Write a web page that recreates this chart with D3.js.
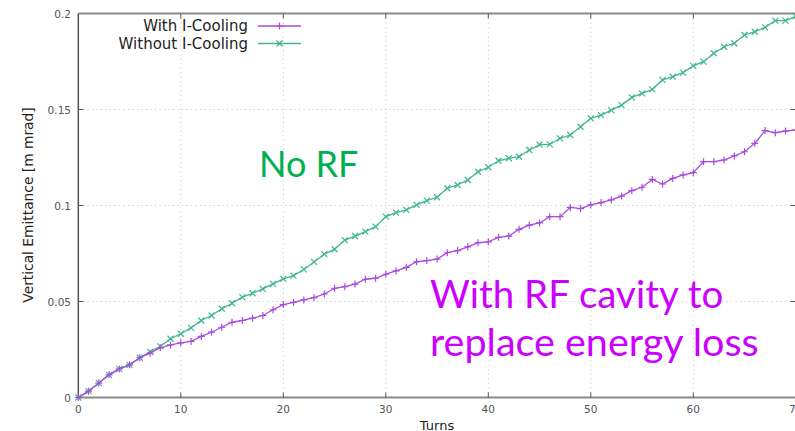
<!DOCTYPE html>
<html>
<head>
<meta charset="utf-8">
<script src="https://cdn.jsdelivr.net/npm/d3@7"></script>
<style>
  body { margin: 0; background: #fff; }
  svg { display: block; }
</style>
</head>
<body>
<svg id="chart" width="795" height="431"></svg>
<script>
// turns 0..70
const turns = d3.range(0, 71);
const withCooling = [
  0, 0.0033, 0.0075, 0.0118, 0.0149, 0.017, 0.0207, 0.0231, 0.0259, 0.0274,
  0.0285, 0.0292, 0.0318, 0.034, 0.0366, 0.0392, 0.0401, 0.0413, 0.0427, 0.0457,
  0.0484, 0.0496, 0.0508, 0.052, 0.0539, 0.0569, 0.0577, 0.0591, 0.0616, 0.0621,
  0.0642, 0.0659, 0.0678, 0.0707, 0.0713, 0.0721, 0.0754, 0.0765, 0.0785, 0.0806,
  0.0811, 0.0834, 0.0841, 0.0876, 0.0898, 0.0909, 0.0942, 0.0942, 0.099, 0.0984,
  0.1003, 0.1015, 0.1029, 0.1049, 0.1077, 0.1095, 0.1136, 0.1112, 0.1141, 0.1159,
  0.1171, 0.1228, 0.1228, 0.1237, 0.1258, 0.128, 0.1324, 0.139, 0.1379, 0.1388,
  0.1393
];
const withoutCooling = [
  0, 0.0033, 0.0075, 0.0118, 0.0149, 0.017, 0.0207, 0.0238, 0.0266, 0.0306,
  0.0332, 0.0363, 0.0401, 0.0427, 0.0462, 0.0491, 0.0523, 0.0543, 0.0566, 0.0592,
  0.0618, 0.0635, 0.0667, 0.0706, 0.0747, 0.0772, 0.082, 0.0841, 0.0864, 0.089,
  0.0942, 0.0963, 0.0977, 0.1003, 0.1025, 0.1043, 0.109, 0.1107, 0.1133, 0.1176,
  0.1199, 0.1233, 0.1246, 0.1254, 0.1289, 0.1317, 0.1318, 0.135, 0.1367, 0.141,
  0.1454, 0.1471, 0.1497, 0.1523, 0.1563, 0.1584, 0.1605, 0.1654, 0.1671, 0.1692,
  0.1727, 0.1749, 0.1793, 0.1827, 0.1845, 0.1888, 0.1905, 0.1928, 0.1963, 0.1963,
  0.1985
];
const xTicks = [0, 10, 20, 30, 40, 50, 60, 70];
const yTicks = [0, 0.05, 0.1, 0.15, 0.2];
const yTickLabels = ["0", "0.05", "0.1", "0.15", "0.2"];
const seriesNames = ["With I-Cooling", "Without I-Cooling"];

const svg = d3.select("#chart");
const x = d3.scaleLinear().domain([0, 70]).range([78.3, 795.8]);
const y = d3.scaleLinear().domain([0, 0.2]).range([397.5, 13.5]);

const purple = "#a64ddc";
const green = "#3fb68f";

// grid
const grid = svg.append("g");
grid.selectAll("line.gx").data(xTicks.slice(1)).enter().append("line")
  .attr("x1", d => x(d)).attr("x2", d => x(d))
  .attr("y1", y(0)).attr("y2", y(0.2))
  .attr("stroke", "#d4d4d4").attr("stroke-dasharray", "1.5,3");
grid.selectAll("line.gy").data(yTicks.slice(1, -1)).enter().append("line")
  .attr("x1", x(0)).attr("x2", x(70))
  .attr("y1", d => y(d)).attr("y2", d => y(d))
  .attr("stroke", "#d4d4d4").attr("stroke-dasharray", "1.5,3");

// borders
svg.append("line").attr("x1", x(0)).attr("x2", 795).attr("y1", y(0.2)).attr("y2", y(0.2))
  .attr("stroke", "#8a8a8a").attr("stroke-width", 2);
svg.append("line").attr("x1", x(0) - 1).attr("x2", 795).attr("y1", y(0)).attr("y2", y(0))
  .attr("stroke", "#8a8a8a").attr("stroke-width", 2);
svg.append("line").attr("x1", x(0)).attr("x2", x(0)).attr("y1", y(0.2)).attr("y2", y(0))
  .attr("stroke", "#555").attr("stroke-width", 1.5);

// tick marks (gnuplot style, inward and mirrored)
const ticks = svg.append("g").attr("stroke", "#555").attr("stroke-width", 1);
xTicks.slice(1).forEach(t => {
  ticks.append("line").attr("x1", x(t)).attr("x2", x(t)).attr("y1", y(0)).attr("y2", y(0) - 5);
  ticks.append("line").attr("x1", x(t)).attr("x2", x(t)).attr("y1", y(0.2)).attr("y2", y(0.2) + 5);
});
yTicks.slice(1, -1).forEach(t => {
  ticks.append("line").attr("x1", x(0)).attr("x2", x(0) + 5).attr("y1", y(t)).attr("y2", y(t));
  ticks.append("line").attr("x1", x(70)).attr("x2", x(70) - 5).attr("y1", y(t)).attr("y2", y(t));
});

// tick labels
svg.append("g").selectAll("text").data(xTicks).enter().append("text")
  .attr("x", d => x(d)).attr("y", 413)
  .attr("text-anchor", "middle")
  .style("font", "10.5px 'DejaVu Sans'").style("fill", "#555")
  .text(d => d);
svg.append("g").selectAll("text").data(yTicks).enter().append("text")
  .attr("x", 71).attr("y", d => y(d) + 4)
  .attr("text-anchor", "end")
  .style("font", "10.5px 'DejaVu Sans'").style("fill", "#555")
  .text((d, i) => yTickLabels[i]);

// axis titles
svg.append("text").attr("x", 437).attr("y", 429.5)
  .attr("text-anchor", "middle")
  .style("font", "13px 'DejaVu Sans'").style("fill", "#222")
  .text("Turns");
svg.append("text")
  .attr("transform", "translate(33,205) rotate(-90)")
  .attr("text-anchor", "middle")
  .style("font", "13.8px 'DejaVu Sans'").style("fill", "#222")
  .text("Vertical Emittance [m mrad]");

// series
function drawSeries(values, color, marker) {
  const line = d3.line().x((d, i) => x(turns[i])).y(d => y(d));
  svg.append("path").datum(values)
    .attr("d", line)
    .attr("fill", "none").attr("stroke", color).attr("stroke-width", 1.3);
  const g = svg.append("g").attr("stroke", color).attr("stroke-width", 1.2);
  values.forEach((v, i) => {
    const cx = x(turns[i]), cy = y(v);
    if (marker === "plus") {
      g.append("path").attr("d", `M${cx - 3.5},${cy}H${cx + 3.5}M${cx},${cy - 3.5}V${cy + 3.5}`);
    } else {
      g.append("path").attr("d", `M${cx - 3},${cy - 3}L${cx + 3},${cy + 3}M${cx - 3},${cy + 3}L${cx + 3},${cy - 3}`);
    }
  });
}
drawSeries(withoutCooling, green, "x");
drawSeries(withCooling, purple, "plus");

// legend
const legend = svg.append("g");
[[purple, "plus"], [green, "x"]].forEach((s, i) => {
  const ly = 26 + i * 17.5;
  legend.append("text").attr("x", 248).attr("y", ly + 5)
    .attr("text-anchor", "end")
    .style("font", "15px 'DejaVu Sans'").style("fill", "#222")
    .text(seriesNames[i]);
  legend.append("line").attr("x1", 258).attr("x2", 301).attr("y1", ly).attr("y2", ly)
    .attr("stroke", s[0]).attr("stroke-width", 1.3);
  const cx = 279.5;
  if (s[1] === "plus") {
    legend.append("path").attr("d", `M${cx - 3.5},${ly}H${cx + 3.5}M${cx},${ly - 3.5}V${ly + 3.5}`)
      .attr("stroke", s[0]).attr("stroke-width", 1.2);
  } else {
    legend.append("path").attr("d", `M${cx - 3},${ly - 3}L${cx + 3},${ly + 3}M${cx - 3},${ly + 3}L${cx + 3},${ly - 3}`)
      .attr("stroke", s[0]).attr("stroke-width", 1.2);
  }
});

// annotations
svg.append("text").attr("x", 259).attr("y", 177)
  .style("font", "36px Lato").style("fill", "#00b050")
  .text("No RF");
svg.append("text").attr("x", 430).attr("y", 308)
  .style("font", "38.5px Lato").style("fill", "#cc00ff")
  .text("With RF cavity to");
svg.append("text").attr("x", 430).attr("y", 356)
  .style("font", "39.5px Lato").style("fill", "#cc00ff")
  .text("replace energy loss");
</script>
</body>
</html>
